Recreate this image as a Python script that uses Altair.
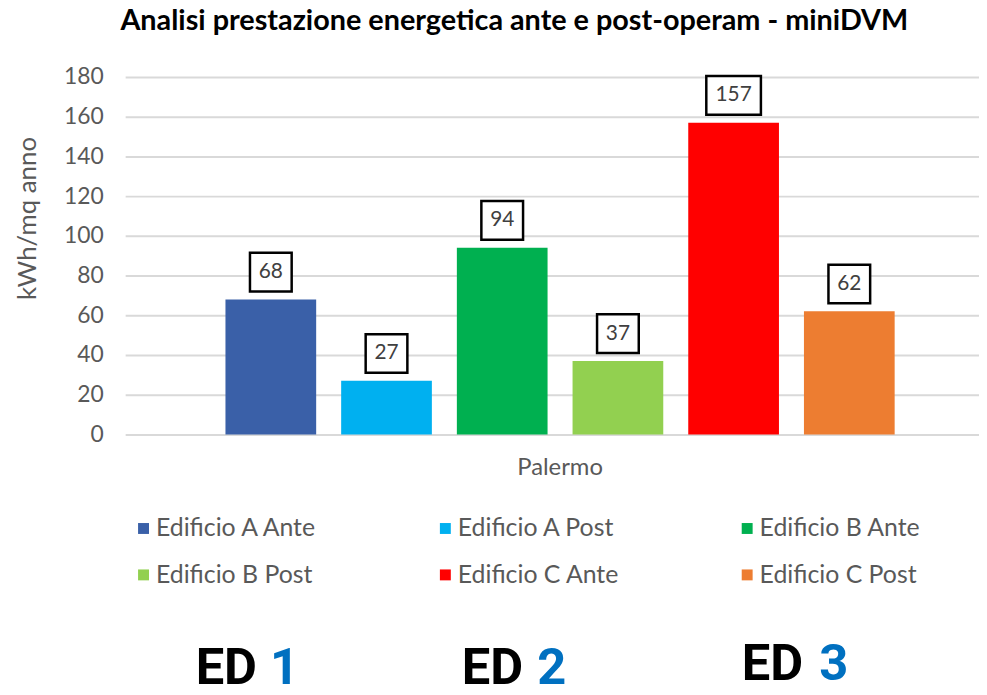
import altair as alt
import pandas as pd

# ---- data ----
city = ["Palermo"] * 6
series = ["Edificio A Ante", "Edificio A Post", "Edificio B Ante",
          "Edificio B Post", "Edificio C Ante", "Edificio C Post"]
values = [68, 27, 94, 37, 157, 62]
colors = ["#3A60A8", "#00B0F0", "#00B050", "#92D050", "#FF0000", "#ED7D31"]
y_ticks = [0, 20, 40, 60, 80, 100, 120, 140, 160, 180]
title_text = "Analisi prestazione energetica ante e post-operam - miniDVM"
y_title = "kWh/mq anno"
ed_words = ["ED", "ED", "ED"]
ed_digits = ["1", "2", "3"]

df = pd.DataFrame({"city": city, "series": series, "value": values})

FONT = "Lato"
GREY = "#595959"

x_enc = alt.X("city:N",
              scale=alt.Scale(paddingOuter=0.115, paddingInner=0, align=0.55),
              axis=alt.Axis(title=None, labelAngle=0, domain=False, ticks=False,
                            labelFontSize=24, labelColor=GREY, labelFont=FONT,
                            labelPadding=21))
xo_enc = alt.XOffset("series:N", sort=series,
                     scale=alt.Scale(paddingInner=0.216, paddingOuter=0.108))
y_axis = alt.Axis(values=y_ticks, title=y_title, domain=False, ticks=False,
                  grid=True, gridColor="#D9D9D9", gridWidth=2,
                  labelFontSize=23, labelColor=GREY, labelFont=FONT,
                  labelPadding=22, labelOverlap=False,
                  titleFontSize=26, titleColor=GREY, titleFont=FONT,
                  titleFontWeight="normal", titleAngle=-90,
                  titleX=-98, titleY=142, titleAlign="center",
                  titleBaseline="middle")
y_scale = alt.Scale(domain=[0, 180], nice=False)
y_enc = alt.Y("value:Q", scale=y_scale, axis=y_axis)

base = alt.Chart(df)

bars = base.mark_bar().encode(
    x=x_enc, xOffset=xo_enc, y=y_enc,
    color=alt.Color("series:N", sort=series,
                    scale=alt.Scale(domain=series, range=colors),
                    legend=alt.Legend(title=None, orient="none", legendX=6, legendY=442,
                                      direction="horizontal",
                                      columns=3, gridAlign="all", columnPadding=116,
                                      rowPadding=21, symbolType="square",
                                      symbolSize=121, symbolStrokeWidth=0,
                                      labelFontSize=25, labelColor=GREY,
                                      labelFont=FONT, labelOffset=0,
                                      labelLimit=300)),
)

boxes = base.mark_bar(fill="white", stroke="black", strokeWidth=2.5,
                      yOffset=-47, y2Offset=-8).encode(
    x=x_enc, xOffset=xo_enc,
    y=y_enc, y2=alt.Y2("value:Q"),
    size=alt.condition("datum.value >= 100", alt.value(55), alt.value(42)),
)

labels = base.mark_text(fontSize=21, color="#404040", font=FONT, dy=-27.5,
                        baseline="middle").encode(
    x=x_enc, xOffset=xo_enc,
    y=y_enc, text=alt.Text("value:Q"),
)

layers = [bars, boxes, labels]

ed_x = [71, 339, 621]
dig_x = [146, 415, 699]
ed_y = [611, 611, 607]
for i in range(3):
    layers.append(alt.Chart(pd.DataFrame({"t": [ed_words[i]]})).mark_text(
        font="Roboto", fontSize=51, fontWeight="bold", color="black",
        align="left", baseline="alphabetic").encode(
        text="t:N", x=alt.value(ed_x[i]), y=alt.value(ed_y[i])))
    layers.append(alt.Chart(pd.DataFrame({"t": [ed_digits[i]]})).mark_text(
        font="Roboto", fontSize=51, fontWeight="bold", color="#0070C0",
        align="left", baseline="alphabetic").encode(
        text="t:N", x=alt.value(dig_x[i]), y=alt.value(ed_y[i])))

chart = alt.layer(*layers).properties(
    width=860, height=360,
    title=alt.TitleParams(title_text, anchor="middle", frame="group", dx=-38,
                          offset=30, fontSize=29, font=FONT, fontWeight="bold",
                          color="black"),
    autosize=alt.AutoSizeParams(type="none"),
    padding={"left": 118, "top": 67, "right": 0, "bottom": 264},
).configure_view(stroke=None)

chart.save("out.html", embed_options={"renderer": "svg", "actions": False})
